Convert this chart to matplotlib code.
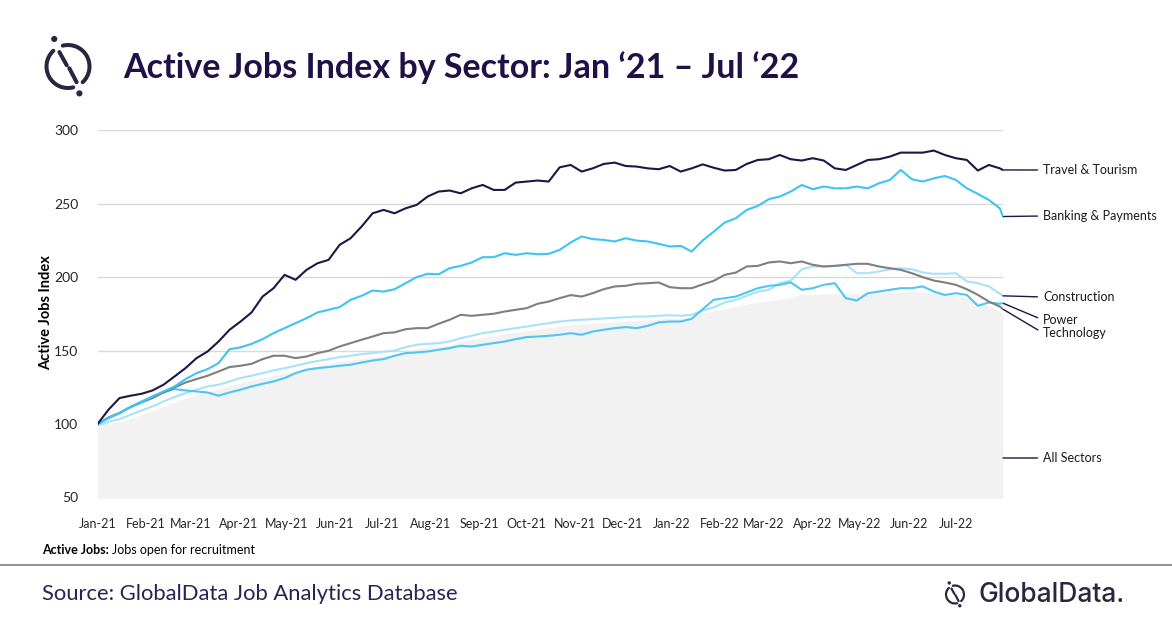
import numpy as np
import pandas as pd
import matplotlib
matplotlib.use("Agg")
import matplotlib.pyplot as plt
import matplotlib.dates as mdates
from matplotlib.patches import Arc, Circle
from matplotlib.lines import Line2D

W, H = 1172, 628

# weekly readings from Jan 1 2021, last point end of Jul 2022
dates = list(pd.date_range("2021-01-01", periods=83, freq="7D")) + [pd.Timestamp("2022-07-31")]

travel = [100, 109.8, 117.7, 119.3, 120.6, 122.9, 126.8, 132.4, 138.1, 144.9, 149.4, 156.2, 164.2, 169.8,
          176.0, 186.8, 192.5, 201.6, 198.2, 205.0, 209.5, 211.8, 222.0, 226.5, 234.5, 243.5, 245.8, 243.5,
          246.9, 249.2, 254.9, 258.3, 259.0, 257.1, 260.5, 262.8, 259.4, 259.4, 264.4, 265.1, 265.8, 265.1,
          274.8, 276.4, 271.9, 274.1, 277.1, 278.0, 275.7, 275.3, 274.1, 273.5, 275.7, 271.9, 274.1,
          276.8, 274.5, 272.6, 273.0, 277.1, 279.8, 280.3, 283.2, 280.3, 279.4, 281.0, 279.4, 274.1, 273.0,
          276.4, 279.8, 280.3, 282.1, 284.8, 284.8, 284.8, 286.2, 283.2, 281.0, 279.8, 272.6, 276.4, 274.1, 273.0]

banking = [100, 104.1, 107.5, 111.6, 114.7, 118.8, 122.2, 125.6, 130.6, 134.7, 137.4, 141.5, 151.0, 152.2,
           154.6, 157.8, 161.9, 165.3, 168.7, 172.1, 176.0, 177.8, 179.6, 184.6, 187.3, 190.9, 190.2, 191.8,
           195.9, 200.0, 202.3, 202.0, 206.1, 207.7, 210.0, 213.6, 213.6, 216.3, 215.2, 216.3, 215.6, 215.9,
           218.6, 223.6, 227.7, 225.9, 225.4, 224.3, 226.5, 224.9, 224.3, 222.7, 220.9, 221.3, 217.5,
           225.0, 231.0, 237.2, 240.1, 245.8, 248.5, 253.1, 254.9, 258.3, 262.8, 259.9, 261.7, 260.5, 260.5,
           261.7, 260.5, 263.9, 266.2, 273.0, 266.7, 265.1, 267.3, 268.9, 266.2, 260.5, 256.7, 252.6, 246.9, 241.3]

technology = [100, 104.5, 107.5, 111.6, 114.7, 117.7, 121.5, 124.9, 128.3, 130.6, 132.9, 135.8, 138.8, 139.7,
              141.0, 144.2, 146.5, 146.5, 144.9, 146.0, 148.3, 149.9, 152.8, 155.1, 157.4, 159.6, 161.9, 162.4,
              164.6, 165.3, 165.3, 168.3, 171.0, 174.4, 173.7, 174.4, 175.1, 176.6, 177.8, 178.9, 181.9, 183.4,
              185.7, 187.8, 186.8, 189.1, 191.8, 193.7, 194.1, 195.5, 195.9, 196.4, 193.2, 192.5, 192.5,
              195.1, 197.5, 201.6, 203.1, 207.3, 207.7, 210.0, 210.7, 209.5, 210.7, 208.4, 207.3, 207.7, 208.4,
              209.1, 209.1, 207.3, 206.1, 205.0, 202.7, 200.0, 197.7, 196.4, 194.8, 191.8, 188.0, 183.4, 180.0, 178.2]

construction = [99, 101.5, 103.4, 106.3, 109.3, 112.0, 115.4, 118.4, 121.1, 123.4, 125.6, 126.8, 129.0, 131.3,
                132.9, 134.7, 136.5, 138.1, 139.7, 141.5, 142.9, 144.2, 145.6, 146.5, 147.6, 148.3, 149.2, 150.1,
                152.4, 154.0, 154.6, 155.1, 156.2, 158.5, 160.1, 161.9, 163.0, 164.2, 165.3, 166.4, 167.6, 168.7,
                169.8, 170.5, 171.0, 171.4, 171.9, 172.3, 172.8, 173.2, 173.2, 173.7, 174.1, 173.7, 174.4,
                177.3, 179.5, 182.8, 184.6, 187.3, 190.2, 191.4, 195.9, 197.7, 205.4, 207.3, 207.3, 207.7, 208.4,
                202.7, 202.7, 203.9, 205.4, 206.1, 205.4, 203.2, 202.3, 202.3, 202.7, 197.1, 195.9, 193.7, 188.7, 187.3]

power = [100, 104.1, 107.5, 111.6, 115.4, 118.8, 121.5, 123.8, 122.9, 122.2, 121.5, 119.3, 121.5, 123.4,
         125.6, 127.4, 129.0, 131.3, 134.7, 137.0, 138.1, 138.8, 139.7, 140.4, 141.9, 143.3, 144.2, 146.5,
         148.3, 148.8, 149.4, 150.6, 151.7, 153.3, 152.8, 154.0, 155.1, 156.2, 157.8, 159.2, 159.6, 160.1,
         160.8, 161.9, 160.8, 163.0, 164.2, 165.3, 166.0, 165.3, 166.9, 169.2, 169.8, 169.8, 171.7,
         178.2, 184.6, 185.7, 186.8, 189.6, 192.5, 194.1, 194.8, 196.4, 191.4, 192.5, 194.8, 195.9, 185.7,
         184.1, 189.1, 190.2, 191.4, 192.5, 192.5, 193.7, 190.2, 187.9, 189.1, 187.9, 180.5, 182.8, 181.9, 182.3]

all_sectors = [100, 100.5, 101.5, 104, 106.5, 109, 112, 115, 117.5, 120, 122, 124, 126, 128,
               130, 131.5, 133, 134.5, 136, 138, 139.5, 141, 142.5, 143.5, 144.5, 145.5, 146.5, 147.5,
               149, 151.5, 152.5, 153, 154, 156, 157.5, 159, 160, 161.5, 162.5, 163.5, 164.5, 165.5,
               166.5, 167.5, 168, 168.5, 169, 169.5, 170, 170.5, 171, 171.5, 172, 172, 172.5,
               175.5, 177, 178.5, 180, 181.5, 183, 184, 185, 186, 188.5, 188.5, 188.5, 189, 189,
               188.5, 188.5, 189, 189.5, 190, 190.5, 190, 189, 188.5, 187.5, 186, 183, 180, 177, 174.5]

NAVY = "#201546"
BLUE = "#3cc4f3"
POWER_BLUE = "#4fc6f2"
LIGHT_BLUE = "#a8e2fa"
GREY = "#7f7f7f"
AREA = "#f2f2f2"
LOGO = "#2a2640"

plt.rcParams["font.family"] = ["Lato", "DejaVu Sans"]


def fx(x):
    return x / W


def fy(y):
    return 1 - y / H


def draw_logo(fig, cx, cy, r, lw):
    pad = r * 1.6
    lax = fig.add_axes([fx(cx - pad), fy(cy + pad), 2 * pad / W, 2 * pad / H])
    lax.set_xlim(-pad, pad)
    lax.set_ylim(-pad, pad)
    lax.axis("off")
    lax.add_patch(Arc((0, 0), 2 * r, 2 * r, theta1=133, theta2=284, lw=lw, color=LOGO, capstyle="round"))
    lax.add_patch(Arc((0, 0), 2 * r, 2 * r, theta1=-47, theta2=104, lw=lw, color=LOGO, capstyle="round"))
    lax.plot([-0.40 * r, -0.06 * r], [0.67 * r, 0.06 * r], color=LOGO, lw=lw, solid_capstyle="round")
    lax.plot([0.06 * r, 0.40 * r], [-0.08 * r, -0.73 * r], color=LOGO, lw=lw, solid_capstyle="round")
    lax.add_patch(Circle((-0.64 * r, 1.28 * r), 0.11 * r, color=LOGO))
    lax.add_patch(Circle((0.53 * r, -1.25 * r), 0.11 * r, color=LOGO))


fig = plt.figure(figsize=(W / 100, H / 100), dpi=100)

ax = fig.add_axes([fx(97.5), fy(497.5), (1003 - 97.5) / W, (497.5 - 130.3) / H])
ax.fill_between(dates, 0, all_sectors, color=AREA, lw=0, zorder=1)
ax.plot(dates, construction, color=LIGHT_BLUE, lw=1.5, zorder=3)
ax.plot(dates, power, color=POWER_BLUE, lw=1.5, zorder=4)
ax.plot(dates, technology, color=GREY, lw=1.5, zorder=5)
ax.plot(dates, banking, color=BLUE, lw=1.5, zorder=6)
ax.plot(dates, travel, color=NAVY, lw=1.5, zorder=7)

ax.set_ylim(50, 300)
ax.set_xlim(dates[0], dates[-1])
ax.set_yticks(range(50, 301, 50))
ax.yaxis.grid(True, color="#d9d9d9", lw=1, zorder=0.5)
ax.set_axisbelow(True)
for s in ax.spines.values():
    s.set_visible(False)
ax.xaxis.set_major_locator(mdates.MonthLocator())
ax.xaxis.set_major_formatter(mdates.DateFormatter("%b-%y"))
ax.tick_params(length=0, labelsize=9.5, colors="#262626")
ax.tick_params(axis="x", pad=15, labelsize=9)
ax.tick_params(axis="y", pad=14, labelsize=10)

# series labels on the right
arrow = dict(arrowstyle="-", color=NAVY, lw=1, shrinkA=2, shrinkB=0, relpos=(0, 0.5))
series_labels = [("Travel & Tourism", travel[-1], 170),
                 ("Banking & Payments", banking[-1], 216),
                 ("Construction", construction[-1], 297),
                 ("Power", power[-1], 320),
                 ("Technology", technology[-1], 333)]
for name, last, ty in series_labels:
    ax.annotate(name, xy=(dates[-1], last), xytext=(1043, H - ty), textcoords="figure pixels",
                ha="left", va="center", fontsize=9, color="#1a1a1a", arrowprops=arrow,
                annotation_clip=False)
ax.annotate("All Sectors", xy=(1003, H - 458), xycoords="figure pixels", xytext=(1043, H - 458),
            textcoords="figure pixels", ha="left", va="center", fontsize=9, color="#1a1a1a",
            arrowprops=arrow, annotation_clip=False)

fig.text(fx(46), fy(313), "Active Jobs Index", rotation=90, ha="center", va="center",
         fontsize=10.5, fontweight="bold", color="#000000")

# title and logo
draw_logo(fig, 68, 66.5, 21.5, 2.9)
fig.text(fx(123), fy(78), "Active Jobs Index by Sector: Jan \u201821 \u2013 Jul \u201822",
         fontsize=24.5, fontweight="bold", color="#1f1147", va="baseline", ha="left")

# footnote
t1 = fig.text(fx(42), fy(550), "Active Jobs:", fontsize=9, fontweight="bold", color="#000000",
              va="center", ha="left")
fig.canvas.draw()
bb = t1.get_window_extent()
fig.text((bb.x1 + 3) / W, fy(550), "Jobs open for recruitment", fontsize=9, color="#000000",
         va="center", ha="left")

fig.add_artist(Line2D([0, 1], [fy(565), fy(565)], color="#808080", lw=1.2))

fig.text(fx(42), fy(594), "Source: GlobalData Job Analytics Database", fontsize=15.8,
         color="#2d2256", va="center", ha="left")

draw_logo(fig, 955, 594.5, 9, 1.6)
fig.text(fx(979), fy(595), "GlobalData.", fontsize=19, color=LOGO, va="center", ha="left",
         family=["Inter", "DejaVu Sans"], fontweight="medium")

fig.savefig("out.png", dpi=100)
